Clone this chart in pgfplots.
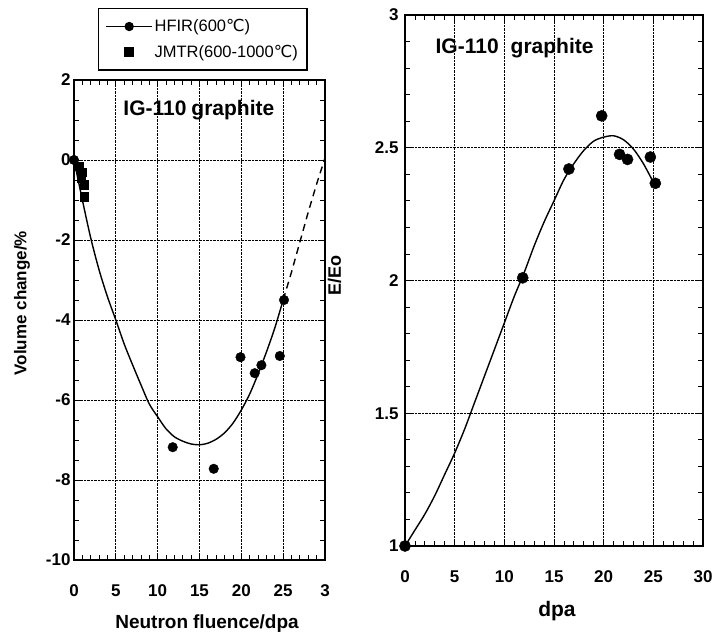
\documentclass[border=0pt]{standalone}
\usepackage{fontspec}
\setmainfont{Liberation Sans}
\newfontfamily\dejavu{DejaVu Sans}
\usepackage{pgfplots}
\pgfplotsset{compat=1.18}
\newcommand{\degC}{{\dejavu ℃}}
\begin{document}
\begin{tikzpicture}[x=1pt,y=1pt]
\path (0,0) rectangle (718,636);
\pgfplotsset{
  common/.style={
    scale only axis, anchor=south west,
    xmin=0, xmax=30, xtick={0,5,...,30},
    minor x tick num=4,
    grid=major,
    major grid style={black, densely dotted, line width=0.8pt},
    tick align=inside,
    major tick length=6pt, minor tick length=5pt,
    every tick/.style={black, line width=0.8pt},
    axis line style={black, line width=1.2pt},
    tick label style={font=\bfseries\fontsize{17}{19}\selectfont},
    /pgf/number format/assume math mode=true,
    xticklabel style={yshift=-21pt},
    label style={font=\bfseries},
  }
}
% ---------------- left panel ----------------
\begin{axis}[common,
  at={(74pt,76pt)}, width=251pt, height=480pt,
  ymin=-10, ymax=2, ytick={-10,-8,...,2}, minor y tick num=3,
  xticklabels={0,5,10,15,20,25,3},
  xlabel={Neutron\hspace{5pt}fluence/dpa},
  xlabel style={font=\bfseries\fontsize{19}{22}\selectfont, at={(axis description cs:0.53,-0.1417)}, anchor=base},
  ylabel={Volume\hspace{5pt}change/\%},
  ylabel style={font=\bfseries\fontsize{17}{20}\selectfont, at={(axis description cs:-0.19,0.535)}, anchor=base, rotate=0},
  legend style={at={(axis description cs:0.096,1.15)}, anchor=north west,
    draw=black, line width=1.3pt, font=\fontsize{16.5}{18}\selectfont,
    inner xsep=7pt, inner ysep=9pt, row sep=8pt,
    /tikz/every even column/.append style={column sep=6pt}},
  legend cell align=left,
]
\addplot[only marks, mark=*, mark size=4.8pt, black,
  legend image code/.code={\draw[black,line width=0.9pt] (0pt,0pt) -- (46pt,0pt); \fill[black] (23pt,0pt) circle (4pt);}]
  coordinates {(0,0) (11.8,-7.18) (16.7,-7.72) (19.9,-4.93) (21.6,-5.33) (22.4,-5.13) (24.6,-4.9) (25.1,-3.5)};
\addlegendentry{HFIR(600\degC)}
\addplot[only marks, mark=square*, mark size=4.2pt, black,
  legend image code/.code={\fill[black] (18pt,-4.5pt) rectangle (27pt,4.5pt);}]
  coordinates {(0.6,-0.15) (0.9,-0.3) (0.85,-0.45) (1.25,-0.62) (1.2,-0.92)};
\addlegendentry{JMTR(600-1000\degC)}
\addplot[black, line width=1.4pt, smooth, forget plot] coordinates {
  (0,0) (1,-1.0) (2,-1.95) (3,-2.75) (4,-3.42) (5,-4.0) (6,-4.6) (7,-5.12)
  (8,-5.62) (9,-6.1) (10,-6.42) (11,-6.72) (12,-6.92) (13,-7.03) (14,-7.1)
  (15,-7.12) (16,-7.08) (17,-6.98) (18,-6.82) (19,-6.58) (20,-6.25)
  (21,-5.85) (22,-5.35) (23,-4.8) (24,-4.2) (25,-3.5)};
\addplot[black, line width=1.4pt, dash pattern=on 7pt off 5pt, forget plot] coordinates {
  (25,-3.5) (26,-2.8) (27,-2.05) (28,-1.3) (29,-0.6) (30,0.05)};
\node[anchor=base west, font=\bfseries\fontsize{21}{24}\selectfont] at (axis description cs:0.183,0.925) {IG-110\hspace{5pt}graphite};
\end{axis}
% ---------------- right panel ----------------
\begin{axis}[common,
  at={(405pt,90pt)}, width=298pt, height=531pt,
  ymin=1, ymax=3, ytick={1,1.5,2,2.5,3}, minor y tick num=4,
  yticklabel style={xshift=-3pt},
  xlabel={dpa},
  xlabel style={font=\bfseries\fontsize{21}{24}\selectfont, at={(axis description cs:0.51,-0.132)}, anchor=base},
  ylabel={E/Eo},
  ylabel style={font=\bfseries\fontsize{18}{21}\selectfont, at={(axis description cs:-0.215,0.51)}, anchor=base},
]
\addplot[only marks, mark=*, mark size=5.6pt, black]
  coordinates {(0,1) (11.85,2.01) (16.5,2.42) (19.8,2.62) (21.6,2.475) (22.4,2.456) (24.7,2.465) (25.2,2.366)};
\addplot[black, line width=1.4pt, smooth] coordinates {
  (0,1.0) (1,1.06) (2,1.12) (3,1.19) (4,1.27) (5,1.35) (6,1.44) (7,1.54)
  (8,1.64) (9,1.74) (10,1.84) (11,1.94) (12,2.03) (13,2.13) (14,2.22)
  (15,2.30) (16,2.38) (17,2.44) (18,2.49) (19,2.525) (20,2.54) (21,2.545)
  (22,2.53) (23,2.495) (24,2.44) (25,2.37)};
\node[anchor=base west, font=\bfseries\fontsize{21}{24}\selectfont] at (axis description cs:0.091,0.928) {IG-110\hspace{12pt}graphite};
\end{axis}
\end{tikzpicture}
\end{document}
